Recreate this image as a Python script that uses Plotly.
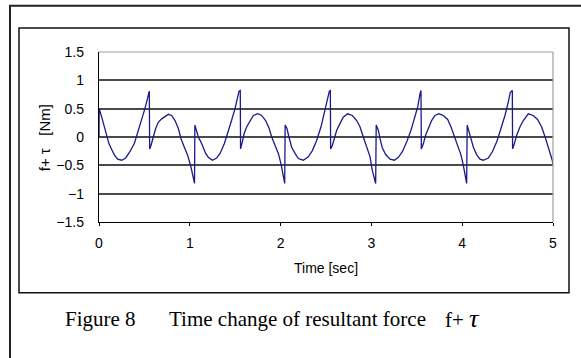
import plotly.graph_objects as go

# ---- data (time [sec], f+tau [Nm]) ----
time_c1 = [0.000, 0.002, 0.010, 0.030, 0.060, 0.085, 0.110, 0.140, 0.170, 0.205, 0.250, 0.294,
           0.340, 0.390, 0.426, 0.463, 0.500, 0.525, 0.543, 0.554, 0.558, 0.573, 0.598, 0.624,
           0.653, 0.690, 0.727, 0.764, 0.800, 0.837, 0.874, 0.903, 0.940, 0.976, 1.013, 1.035, 1.052]
force_c1 = [0.00, 0.50, 0.46, 0.35, 0.18, 0.01, -0.12, -0.22, -0.32, -0.39, -0.41, -0.37,
            -0.26, -0.11, 0.07, 0.26, 0.47, 0.62, 0.76, 0.81, -0.21, -0.15, 0.00, 0.15,
            0.26, 0.32, 0.36, 0.40, 0.38, 0.29, 0.15, -0.03, -0.18, -0.32, -0.53, -0.71, -0.82]

time_c2 = [1.056, 1.076, 1.094, 1.123, 1.149, 1.175, 1.204, 1.248, 1.296, 1.333, 1.380, 1.417,
           1.454, 1.498, 1.523, 1.542, 1.556, 1.559, 1.578, 1.600, 1.630, 1.663, 1.700, 1.747,
           1.791, 1.835, 1.872, 1.902, 1.938, 1.975, 2.004, 2.030, 2.045]
force_c2 = [0.21, 0.12, 0.00, -0.09, -0.21, -0.29, -0.36, -0.41, -0.37, -0.29, -0.12, 0.06,
            0.26, 0.50, 0.66, 0.81, 0.82, -0.21, -0.09, 0.07, 0.19, 0.29, 0.38, 0.41,
            0.38, 0.29, 0.16, 0.00, -0.15, -0.29, -0.47, -0.68, -0.82]

time_c3 = [2.050, 2.070, 2.092, 2.122, 2.159, 2.195, 2.250, 2.305, 2.350, 2.397, 2.445, 2.489,
           2.518, 2.537, 2.548, 2.551, 2.570, 2.592, 2.618, 2.655, 2.690, 2.738, 2.790, 2.838,
           2.874, 2.911, 2.948, 2.985, 3.010, 3.030, 3.047]
force_c3 = [0.21, 0.15, 0.00, -0.18, -0.29, -0.38, -0.41, -0.35, -0.24, -0.06, 0.18, 0.47,
            0.68, 0.81, 0.82, -0.21, -0.15, 0.00, 0.12, 0.24, 0.35, 0.41, 0.38, 0.29,
            0.18, 0.00, -0.18, -0.35, -0.59, -0.72, -0.82]

time_c4 = [3.053, 3.076, 3.095, 3.120, 3.157, 3.205, 3.253, 3.297, 3.341, 3.388, 3.436, 3.480,
           3.510, 3.535, 3.546, 3.550, 3.572, 3.597, 3.627, 3.663, 3.700, 3.744, 3.792, 3.840,
           3.876, 3.913, 3.950, 3.987, 4.010, 4.023, 4.049]
force_c4 = [0.21, 0.12, -0.03, -0.19, -0.31, -0.39, -0.41, -0.36, -0.26, -0.09, 0.12, 0.35,
            0.53, 0.76, 0.82, -0.21, -0.12, 0.03, 0.15, 0.29, 0.38, 0.41, 0.38, 0.31,
            0.18, 0.00, -0.15, -0.32, -0.48, -0.59, -0.82]

time_c5 = [4.055, 4.075, 4.097, 4.123, 4.159, 4.196, 4.232, 4.288, 4.332, 4.379, 4.427, 4.471,
           4.508, 4.530, 4.552, 4.555, 4.574, 4.600, 4.637, 4.673, 4.728, 4.783, 4.830, 4.874,
           4.911, 4.948, 4.992, 5.000]
force_c5 = [0.21, 0.09, -0.03, -0.18, -0.31, -0.39, -0.41, -0.37, -0.26, -0.09, 0.15, 0.38,
            0.62, 0.79, 0.82, -0.21, -0.12, 0.03, 0.18, 0.29, 0.41, 0.38, 0.31, 0.18,
            0.01, -0.18, -0.41, -0.50]

x_ticks = [0, 1, 2, 3, 4, 5]
x_tick_labels = ["0", "1", "2", "3", "4", "5"]
y_ticks = [-1.5, -1, -0.5, 0, 0.5, 1, 1.5]
y_tick_labels = ["\u22121.5", "\u22121", "\u22120.5", "0", "0.5", "1", "1.5"]

x_title = "Time [sec]"
y_title = "f+ \u03c4\u00a0\u00a0\u00a0[Nm]"

time = time_c1 + time_c2 + time_c3 + time_c4 + time_c5
force = force_c1 + force_c2 + force_c3 + force_c4 + force_c5

W, H = 581, 358
L, R, T, B = 99, 553, 51.5, 222.0


def px(xp):
    return (xp - L) / (R - L)


def py(yp):
    return (B - yp) / (B - T)


fig = go.Figure()
fig.add_trace(go.Scatter(x=time, y=force, mode="lines",
                         line=dict(color="#1a1a8c", width=1.3), showlegend=False,
                         hoverinfo="skip"))

axis_font = dict(family="Liberation Sans, Arial, sans-serif", size=14, color="#000")

fig.update_layout(
    width=W, height=H, autosize=False,
    margin=dict(l=L, r=W - R, t=T, b=H - B, pad=0),
    paper_bgcolor="white", plot_bgcolor="white",
    xaxis=dict(range=[0, 5], tickvals=x_ticks, ticktext=x_tick_labels,
               showgrid=False, zeroline=False, showline=True, linecolor="#000", linewidth=1.3,
               ticks="outside", ticklen=3, tickcolor="#000", tickwidth=1,
               tickfont=axis_font, ticklabelstandoff=5),
    yaxis=dict(range=[-1.5, 1.5], tickvals=y_ticks, ticktext=y_tick_labels,
               showgrid=True, gridcolor="#4a4a4a", gridwidth=2,
               zeroline=False, showline=True, linecolor="#000", linewidth=1.2,
               ticks="", tickfont=axis_font, ticklabelstandoff=11),
)

shapes = [
    # top and right plot borders (light gray)
    dict(type="line", xref="paper", yref="paper", x0=0, x1=1, y0=1, y1=1,
         line=dict(color="#a0a0a0", width=1.2)),
    dict(type="line", xref="paper", yref="paper", x0=1, x1=1, y0=0, y1=1,
         line=dict(color="#a0a0a0", width=1.2)),
    # inner chart frame
    dict(type="rect", xref="paper", yref="paper", x0=px(19), x1=px(569), y0=py(293), y1=py(27.5),
         line=dict(color="#111", width=1.5), layer="below"),
    # outer page frame
    dict(type="rect", xref="paper", yref="paper", x0=px(10), x1=px(600), y0=py(380), y1=py(5),
         line=dict(color="#222", width=2), layer="below"),
]
fig.update_layout(shapes=shapes)

annotations = [
    dict(text=x_title, xref="paper", yref="paper", x=px(326), y=py(268),
         showarrow=False, font=dict(family="Liberation Sans, Arial, sans-serif", size=14, color="#000"),
         xanchor="center", yanchor="middle"),
    dict(text=y_title, xref="paper", yref="paper", x=px(44), y=py(138), textangle=-90,
         showarrow=False, font=dict(family="Liberation Sans, Arial, sans-serif", size=15, color="#000"),
         xanchor="center", yanchor="middle"),
    dict(text="Figure 8", xref="paper", yref="paper", x=px(63), y=py(319),
         showarrow=False, font=dict(family="Liberation Serif, Times New Roman, serif", size=21, color="#000"),
         xanchor="left", yanchor="middle"),
    dict(text="Time change of resultant force", xref="paper", yref="paper", x=px(167), y=py(319),
         showarrow=False, font=dict(family="Liberation Serif, Times New Roman, serif", size=21, color="#000"),
         xanchor="left", yanchor="middle"),
    dict(text="f+ <i><span style='font-size:26px'>\u03c4</span></i>", xref="paper", yref="paper",
         x=px(443), y=py(319),
         showarrow=False, font=dict(family="Liberation Serif, Times New Roman, serif", size=21, color="#000"),
         xanchor="left", yanchor="middle"),
]
fig.update_layout(annotations=annotations)

fig.write_html("out.html", config={"displayModeBar": False, "staticPlot": True},
               post_script="document.body.style.margin='0px';document.body.style.overflow='hidden';")
